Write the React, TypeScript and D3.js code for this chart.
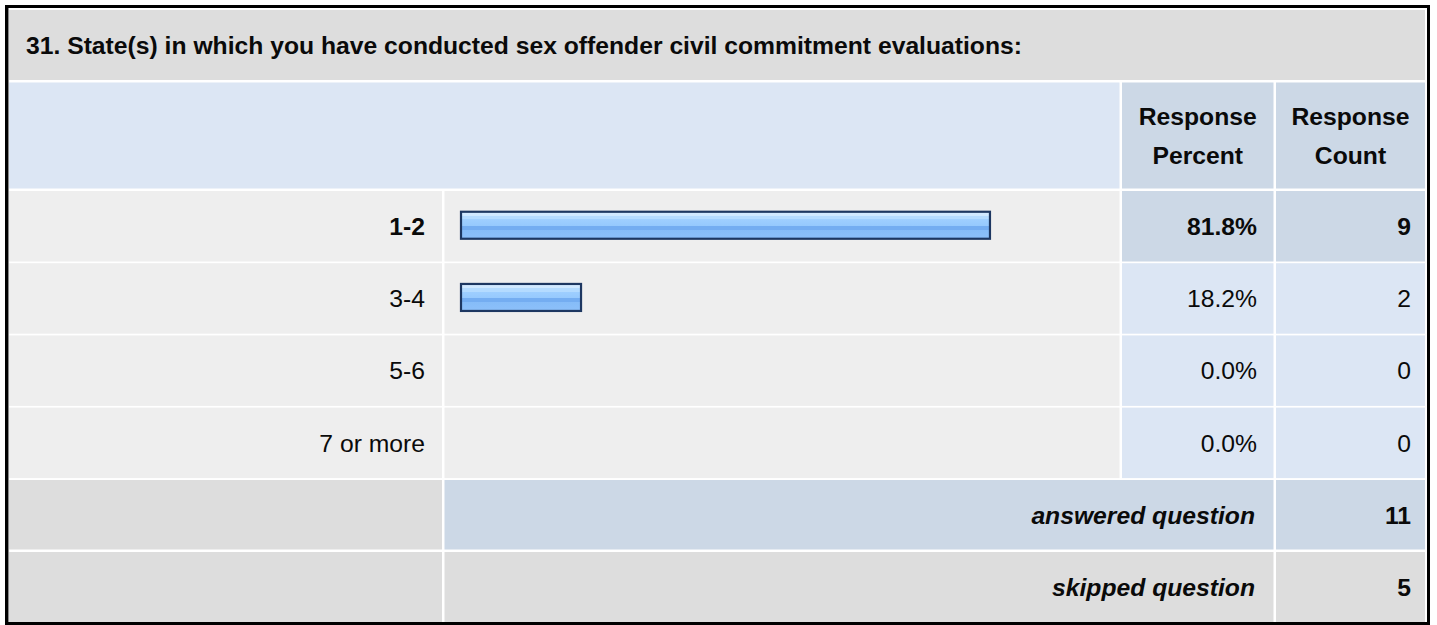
import React from "react";
import * as d3 from "d3";

const title = "31. State(s) in which you have conducted sex offender civil commitment evaluations:";
const categories = ["1-2", "3-4", "5-6", "7 or more"];
const percents = [81.8, 18.2, 0.0, 0.0];
const counts = [9, 2, 0, 0];
const headerPercent = ["Response", "Percent"];
const headerCount = ["Response", "Count"];
const answeredLabel = "answered question";
const skippedLabel = "skipped question";
const answered = 11;
const skipped = 5;

const FONT = "'Liberation Sans', Arial, Helvetica, sans-serif";
const FS = 24.7;

export default function App() {
  const W = 1437;
  const H = 625;
  // columns
  const colLabel = [9, 442];
  const colBar = [444.5, 1119.5];
  const colPct = [1122, 1273.5];
  const colCnt = [1276, 1425];
  const titleRow = [10, 80];
  const headerRow = [82.5, 188.5];
  const rowTops = d3.range(categories.length).map((i) => 191 + i * 72.2);
  const rowH = 70.5;
  const ansRow = [480, 549.5];
  const skipRow = [552, 622];

  const maxIdx = d3.maxIndex(percents);
  const x = d3.scaleLinear().domain([0, 100]).range([0, 643]);
  const fmt = (v: number) => d3.format(".1f")(v) + "%";

  const C_TITLE = "#dddddd";
  const C_HEAD_LIGHT = "#dce6f4";
  const C_HEAD_DARK = "#ccd8e6";
  const C_ROW = "#eeeeee";
  const TXT = "#0a0a0a";

  const base = (top: number, bottom: number) => (top + bottom) / 2 + FS * 0.355;

  return (
    <svg
      width={W}
      height={H}
      style={{ position: "absolute", left: 0, top: 0, background: "#ffffff" }}
      fontFamily={FONT}
    >
      <defs>
        <linearGradient id="barGrad" x1="0" y1="0" x2="0" y2="1">
          <stop offset="0" stopColor="#d3eaff" />
          <stop offset="0.14" stopColor="#cfe8ff" />
          <stop offset="0.14" stopColor="#b4dbff" />
          <stop offset="0.28" stopColor="#b4dbff" />
          <stop offset="0.28" stopColor="#9fcfff" />
          <stop offset="0.52" stopColor="#96c9fd" />
          <stop offset="0.52" stopColor="#74adf1" />
          <stop offset="0.66" stopColor="#74adf1" />
          <stop offset="0.66" stopColor="#86bcf8" />
          <stop offset="1" stopColor="#8cc0fa" />
        </linearGradient>
      </defs>
      <rect x={0} y={0} width={W} height={H} fill="#ffffff" />
      {/* title */}
      <rect x={colLabel[0]} y={titleRow[0]} width={colCnt[1] - colLabel[0]} height={titleRow[1] - titleRow[0]} fill={C_TITLE} />
      <text x={26} y={base(titleRow[0], titleRow[1])} fontSize={FS} fontWeight="bold" fill={TXT}>
        {title}
      </text>
      {/* header */}
      <rect x={colLabel[0]} y={headerRow[0]} width={colBar[1] - colLabel[0]} height={headerRow[1] - headerRow[0]} fill={C_HEAD_LIGHT} />
      <rect x={colPct[0]} y={headerRow[0]} width={colPct[1] - colPct[0]} height={headerRow[1] - headerRow[0]} fill={C_HEAD_DARK} />
      <rect x={colCnt[0]} y={headerRow[0]} width={colCnt[1] - colCnt[0]} height={headerRow[1] - headerRow[0]} fill={C_HEAD_DARK} />
      {[headerPercent, headerCount].map((lines, ci) => {
        const col = ci === 0 ? colPct : colCnt;
        const cx = (col[0] + col[1]) / 2;
        const mid = base(headerRow[0], headerRow[1]);
        return lines.map((l, li) => (
          <text key={`h${ci}${li}`} x={cx} y={mid + (li - 0.5) * 39.5} fontSize={FS} fontWeight="bold" textAnchor="middle" fill={TXT}>
            {l}
          </text>
        ));
      })}
      {/* data rows */}
      {categories.map((cat, i) => {
        const top = rowTops[i];
        const bottom = top + rowH;
        const hi = i === maxIdx;
        const by = base(top, bottom);
        const mid = (top + bottom) / 2;
        const fw = hi ? "bold" : "normal";
        return (
          <g key={cat}>
            <rect x={colLabel[0]} y={top} width={colLabel[1] - colLabel[0]} height={rowH} fill={C_ROW} />
            <rect x={colBar[0]} y={top} width={colBar[1] - colBar[0]} height={rowH} fill={C_ROW} />
            <rect x={colPct[0]} y={top} width={colPct[1] - colPct[0]} height={rowH} fill={hi ? C_HEAD_DARK : C_HEAD_LIGHT} />
            <rect x={colCnt[0]} y={top} width={colCnt[1] - colCnt[0]} height={rowH} fill={hi ? C_HEAD_DARK : C_HEAD_LIGHT} />
            <text x={425} y={by} fontSize={FS} fontWeight={fw} textAnchor="end" fill={TXT}>
              {cat}
            </text>
            {percents[i] > 0 && (
              <rect
                x={461}
                y={mid - 14.5}
                width={x(percents[i]) + 3}
                height={27}
                fill="url(#barGrad)"
                stroke="#1d3761"
                strokeWidth={2.2}
              />
            )}
            <text x={1257} y={by} fontSize={FS} fontWeight={fw} textAnchor="end" fill={TXT}>
              {fmt(percents[i])}
            </text>
            <text x={1411} y={by} fontSize={FS} fontWeight={fw} textAnchor="end" fill={TXT}>
              {counts[i]}
            </text>
          </g>
        );
      })}
      {/* answered */}
      <rect x={colLabel[0]} y={ansRow[0]} width={colLabel[1] - colLabel[0]} height={ansRow[1] - ansRow[0]} fill={C_TITLE} />
      <rect x={colBar[0]} y={ansRow[0]} width={colPct[1] - colBar[0]} height={ansRow[1] - ansRow[0]} fill={C_HEAD_DARK} />
      <rect x={colCnt[0]} y={ansRow[0]} width={colCnt[1] - colCnt[0]} height={ansRow[1] - ansRow[0]} fill={C_HEAD_DARK} />
      <text x={1255} y={base(ansRow[0], ansRow[1])} fontSize={FS} fontWeight="bold" fontStyle="italic" textAnchor="end" fill={TXT}>
        {answeredLabel}
      </text>
      <text x={1411} y={base(ansRow[0], ansRow[1])} fontSize={FS} fontWeight="bold" textAnchor="end" fill={TXT}>
        {answered}
      </text>
      {/* skipped */}
      <rect x={colLabel[0]} y={skipRow[0]} width={colLabel[1] - colLabel[0]} height={skipRow[1] - skipRow[0]} fill={C_TITLE} />
      <rect x={colBar[0]} y={skipRow[0]} width={colPct[1] - colBar[0]} height={skipRow[1] - skipRow[0]} fill={C_TITLE} />
      <rect x={colCnt[0]} y={skipRow[0]} width={colCnt[1] - colCnt[0]} height={skipRow[1] - skipRow[0]} fill={C_TITLE} />
      <text x={1255} y={base(skipRow[0], skipRow[1])} fontSize={FS} fontWeight="bold" fontStyle="italic" textAnchor="end" fill={TXT}>
        {skippedLabel}
      </text>
      <text x={1411} y={base(skipRow[0], skipRow[1])} fontSize={FS} fontWeight="bold" textAnchor="end" fill={TXT}>
        {skipped}
      </text>
      {/* outer border */}
      <rect x={6.5} y={6.5} width={1422} height={617} fill="none" stroke="#000" strokeWidth={3} />
      <line x1={8.5} y1={8} x2={8.5} y2={622} stroke="#888" strokeWidth={1} />
    </svg>
  );
}
